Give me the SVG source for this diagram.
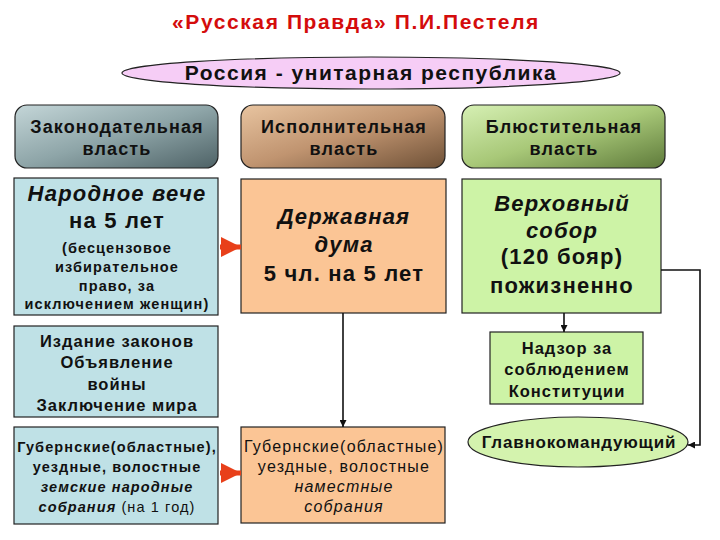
<svg xmlns="http://www.w3.org/2000/svg" width="720" height="540" viewBox="0 0 720 540">
<style>
text{font-family:"Liberation Sans",Arial,sans-serif;font-weight:bold;fill:#111;text-anchor:middle;letter-spacing:1px}
.hdr{font-size:18px;letter-spacing:1.1px}
.big{font-size:22px;letter-spacing:1.2px}
.mid{font-size:16.5px;letter-spacing:1px}
.sm{font-size:14.5px;letter-spacing:1.1px}
.sm2{font-size:16px;font-weight:normal;letter-spacing:1.2px}
.reg{font-weight:normal}
.it{font-style:italic}
.blue{fill:#bfe1e6;stroke:#222;stroke-width:1.2}
.peach{fill:#fbc595;stroke:#222;stroke-width:1.2}
.green{fill:#cdf3a6;stroke:#222;stroke-width:1.2}
.conn{fill:none;stroke:#111;stroke-width:1.6}
.red{fill:none;stroke:#e8401a;stroke-width:5}
</style>
<defs>
<linearGradient id="gGray" x1="0" y1="0" x2="1" y2="1">
<stop offset="0" stop-color="#c4d6d8"/><stop offset="0.5" stop-color="#8ea5a8"/><stop offset="1" stop-color="#4e6266"/>
</linearGradient>
<linearGradient id="gBrown" x1="0" y1="0" x2="1" y2="1">
<stop offset="0" stop-color="#e8c4a0"/><stop offset="0.5" stop-color="#c09470"/><stop offset="1" stop-color="#6e5036"/>
</linearGradient>
<linearGradient id="gGreen" x1="0" y1="0" x2="1" y2="1">
<stop offset="0" stop-color="#d6f0b4"/><stop offset="0.5" stop-color="#a8c878"/><stop offset="1" stop-color="#5e7a3a"/>
</linearGradient>
<marker id="ah" viewBox="0 0 10 10" refX="10" refY="5" markerWidth="7" markerHeight="7" markerUnits="userSpaceOnUse" orient="auto">
<path d="M0,0 L10,5 L0,10 z" fill="#111"/>
</marker>
<marker id="rh" viewBox="0 0 10 10" refX="10" refY="5" markerWidth="4" markerHeight="4" orient="auto">
<path d="M0,0 L10,5 L0,10 z" fill="#e8401a"/>
</marker>
</defs>
<rect width="720" height="540" fill="#fff"/>

<g id="title">
<text x="356" y="29" style="font-size:21px;letter-spacing:1.6px;fill:#d40c0c">«Русская Правда» П.И.Пестеля</text>
</g>

<g id="russia">
<ellipse cx="371" cy="73" rx="249" ry="16" fill="#f6cdf6" stroke="#222" stroke-width="1.2"/>
<text x="371" y="80" style="font-size:21px;letter-spacing:1.5px">Россия - унитарная республика</text>
</g>

<g id="h-leg">
<rect x="15" y="105" width="203" height="63" rx="12" fill="url(#gGray)" stroke="#222" stroke-width="1.2"/>
<text class="hdr" x="117" y="133">Законодательная</text>
<text class="hdr" x="117" y="155">власть</text>
</g>
<g id="h-exec">
<rect x="241" y="105" width="204" height="63" rx="12" fill="url(#gBrown)" stroke="#222" stroke-width="1.2"/>
<text class="hdr" x="344" y="133">Исполнительная</text>
<text class="hdr" x="344" y="155">власть</text>
</g>
<g id="h-guard">
<rect x="462" y="105" width="203" height="63" rx="12" fill="url(#gGreen)" stroke="#222" stroke-width="1.2"/>
<text class="hdr" x="564" y="133">Блюстительная</text>
<text class="hdr" x="564" y="155">власть</text>
</g>

<g id="veche">
<rect class="blue" x="14" y="178" width="204" height="137"/>
<text class="big it" x="117" y="201">Народное вече</text>
<text class="big" x="117" y="228">на 5 лет</text>
<text class="sm" x="117" y="253">(бесцензовое</text>
<text class="sm" x="117" y="272">избирательное</text>
<text class="sm" x="117" y="291">право, за</text>
<text class="sm" x="117" y="309">исключением женщин)</text>
</g>

<g id="duma">
<rect class="peach" x="241" y="179" width="205" height="134"/>
<text class="big it" x="344" y="224">Державная</text>
<text class="big it" x="344" y="252">дума</text>
<text class="big" x="344" y="281">5 чл. на 5 лет</text>
</g>

<g id="sobor">
<rect class="green" x="462" y="179" width="199" height="134"/>
<text class="big it" x="562" y="211">Верховный</text>
<text class="big it" x="562" y="238">собор</text>
<text class="big" x="562" y="264">(120 бояр)</text>
<text class="big" x="562" y="293">пожизненно</text>
</g>

<g id="laws">
<rect class="blue" x="14" y="326" width="204" height="91"/>
<text class="mid" x="117" y="347">Издание законов</text>
<text class="mid" x="117" y="368">Объявление</text>
<text class="mid" x="117" y="390">войны</text>
<text class="mid" x="117" y="411">Заключение мира</text>
</g>

<g id="nadzor">
<rect class="green" x="490" y="332" width="153" height="72"/>
<text class="mid" x="567" y="354">Надзор  за</text>
<text class="mid" x="567" y="375">соблюдением</text>
<text class="mid" x="567" y="397">Конституции</text>
</g>

<g id="zemskie">
<rect class="blue" x="14" y="427" width="204" height="97"/>
<text class="sm" x="117" y="452">Губернские(областные),</text>
<text class="sm" x="117" y="472">уездные, волостные</text>
<text class="sm it" x="117" y="492">земские народные</text>
<text class="sm" x="117" y="512"><tspan class="it">собрания</tspan><tspan class="reg"> (на 1  год)</tspan></text>
</g>

<g id="namestnye">
<rect class="peach" x="241" y="427" width="204" height="96"/>
<text class="sm2" x="344" y="452">Губернские(областные)</text>
<text class="sm2" x="344" y="472">уездные, волостные</text>
<text class="sm2 it" x="344" y="492">наместные</text>
<text class="sm2 it" x="344" y="512">собрания</text>
</g>

<g id="glavkom">
<ellipse cx="578" cy="442" rx="110" ry="25" fill="#d4f3ae" stroke="#222" stroke-width="1.2"/>
<text class="mid" x="579" y="448" style="font-size:17px;letter-spacing:0.8px">Главнокомандующий</text>
</g>

<g id="connectors">
<line class="red" x1="220" y1="247" x2="241" y2="247" marker-end="url(#rh)"/>
<line class="red" x1="220" y1="473" x2="241" y2="473" marker-end="url(#rh)"/>
<line class="conn" x1="343" y1="313" x2="343" y2="427" marker-end="url(#ah)"/>
<line class="conn" x1="564" y1="313" x2="564" y2="332" marker-end="url(#ah)"/>
<polyline class="conn" points="661,270 700,270 700,445 688,445" marker-end="url(#ah)"/>
</g>
</svg>
